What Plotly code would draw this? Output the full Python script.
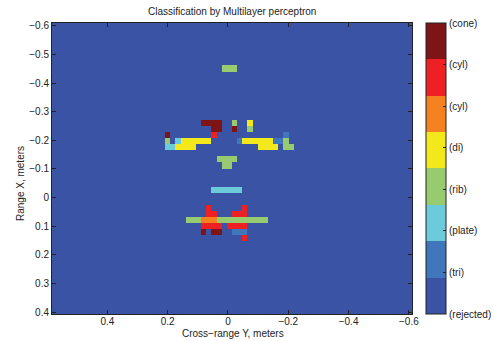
import numpy as np
import plotly.graph_objects as go

# ---- class legend (colour bar) ----
CLASS_LABELS = ["(rejected)", "(tri)", "(plate)", "(rib)", "(di)", "(cyl)", "(cyl)", "(cone)"]
CLASS_COLORS = ["#3A53A4", "#3F76BC", "#6CCBDB", "#98CB6F", "#F3E81B", "#F58220", "#EE2024", "#7F1416"]

# ---- image grid (cell centres, meters) ----
N_ROWS = 48
N_COLS = 70
RANGE_X_FIRST = -0.5988      # centre of first row
RANGE_X_STEP = 0.021154
CROSS_Y_FIRST = 0.5752       # centre of first column
CROSS_Y_STEP = -0.017058

# ---- tick labels ----
X_TICKS = [0.4, 0.2, 0, -0.2, -0.4, -0.6]
Y_TICKS = [-0.6, -0.5, -0.4, -0.3, -0.2, -0.1, 0, 0.1, 0.2, 0.3, 0.4]

# ---- runs of classified cells: (row, first col, last col, class index) ----
RUNS = [
    (7, 33, 35, 3),
    (16, 29, 32, 7), (16, 35, 35, 3), (16, 38, 38, 4),
    (17, 31, 32, 7), (17, 35, 35, 7), (17, 38, 38, 3),
    (18, 22, 22, 7), (18, 31, 31, 6), (18, 45, 45, 1),
    (19, 22, 22, 3), (19, 24, 24, 2), (19, 25, 30, 4), (19, 36, 36, 1),
    (19, 37, 42, 4), (19, 43, 44, 1), (19, 45, 45, 3),
    (20, 22, 23, 2), (20, 24, 27, 4), (20, 40, 43, 4), (20, 45, 46, 3),
    (22, 32, 35, 3),
    (23, 33, 34, 3),
    (27, 31, 36, 2),
    (30, 30, 30, 6), (30, 37, 37, 6),
    (31, 30, 31, 6), (31, 35, 37, 6),
    (32, 26, 28, 3), (32, 29, 31, 5), (32, 32, 41, 3),
    (33, 29, 32, 6), (33, 34, 37, 6),
    (34, 29, 29, 7), (34, 31, 32, 7), (34, 35, 37, 1),
    (35, 37, 37, 6),
]

y_centres = RANGE_X_FIRST + RANGE_X_STEP * np.arange(N_ROWS)
x_centres = CROSS_Y_FIRST + CROSS_Y_STEP * np.arange(N_COLS)
z = np.zeros((N_ROWS, N_COLS), dtype=int)
for r, c0, c1, k in RUNS:
    z[r, c0:c1 + 1] = k

n = len(CLASS_COLORS)
colorscale = []
for i, col in enumerate(CLASS_COLORS):
    colorscale.append([i / n, col])
    colorscale.append([(i + 1) / n, col])

FONT = "Liberation Sans, Arial, Helvetica, sans-serif"
TXT = "#222222"

fig = go.Figure(go.Heatmap(
    x=x_centres, y=y_centres, z=z,
    zmin=0, zmax=7, colorscale=colorscale, zsmooth=False,
    hoverinfo="skip",
    colorbar=dict(
        x=1.0375, xanchor="left", y=0.5, yanchor="middle",
        len=1, lenmode="fraction", thickness=20, thicknessmode="pixels",
        xpad=0, ypad=0, outlinewidth=1, outlinecolor="#222222",
        tickvals=list(range(8)), ticktext=CLASS_LABELS,
        ticks="inside", ticklen=3, tickcolor="#222222",
        tickfont=dict(family=FONT, size=10, color=TXT),
    ),
))

axis_common = dict(
    showgrid=False, zeroline=False, showline=True, linecolor="#222222",
    linewidth=1, mirror="ticks", ticks="inside", ticklen=4, tickcolor="#222222",
    tickfont=dict(family=FONT, size=10, color=TXT),
)
fig.update_xaxes(range=[0.5837, -0.6103], tickvals=X_TICKS, ticklabelstandoff=-2, **axis_common)
fig.update_yaxes(range=[0.406, -0.6094], tickvals=Y_TICKS, **axis_common)

fig.update_layout(
    width=494, height=341, autosize=False,
    margin=dict(l=52, r=82, t=23, b=27, pad=0, autoexpand=False),
    paper_bgcolor="white", plot_bgcolor="white",
    font=dict(family=FONT, size=10, color=TXT),
    showlegend=False,
    annotations=[
        dict(text="Classification by Multilayer perceptron", x=0.5, y=(314 - 12) / 291,
             xref="paper", yref="paper", showarrow=False, xanchor="center", yanchor="middle",
             font=dict(family=FONT, size=10, color=TXT)),
        dict(text="Cross\u2212range Y, meters", x=(232.7 - 52) / 360, y=(314 - 333) / 291,
             xref="paper", yref="paper", showarrow=False, xanchor="center", yanchor="middle",
             font=dict(family=FONT, size=10, color=TXT)),
        dict(text="Range X, meters", x=(20 - 52) / 360, y=(314 - 184) / 291,
             xref="paper", yref="paper", showarrow=False, xanchor="center", yanchor="middle",
             textangle=-90, font=dict(family=FONT, size=10, color=TXT)),
    ],
)

fig.write_html(
    "out.html",
    config={"displayModeBar": False},
    post_script="document.body.style.margin='0px';document.body.style.overflow='hidden';",
)
